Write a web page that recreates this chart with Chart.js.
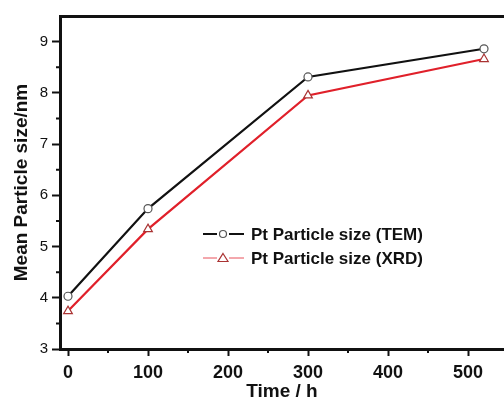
<!DOCTYPE html>
<html lang="en">
<head>
  <meta charset="UTF-8">
  <title>Mean Pt particle size vs time</title>
  <script src="https://cdn.jsdelivr.net/npm/chart.js"></script>
  <style>
    body {
      margin: 0;
      background: #fff;
    }
    canvas {
      display: block;
    }
  </style>
</head>
<body>
  <canvas id="sizeChart" width="504" height="403"></canvas>

  <script>
    // values
    const hours = [0, 100, 300, 520];
    const temSize = [4.03, 5.74, 8.31, 8.86];
    const xrdSize = [3.74, 5.34, 7.95, 8.66];
    const seriesNames = ['Pt Particle size (TEM)', 'Pt Particle size (XRD)'];

    const toPoints = (ys) => hours.map((h, i) => ({ x: h, y: ys[i] }));

    // short ticks halfway between the labelled ones
    const minorTicks = {
      id: 'minorTicks',
      afterDraw(chart) {
        const ctx = chart.ctx;
        const x = chart.scales.x;
        const y = chart.scales.y;
        ctx.save();
        ctx.strokeStyle = '#111';
        ctx.lineWidth = 2;
        ctx.beginPath();
        x.ticks.forEach(t => {
          const px = x.getPixelForValue(t.value + 50);
          if (px > x.right) return;
          ctx.moveTo(px, x.top);
          ctx.lineTo(px, x.top + 4);
        });
        y.ticks.forEach(t => {
          const v = t.value - 0.5;
          if (v < y.min) return;
          const py = y.getPixelForValue(v);
          ctx.moveTo(y.right, py);
          ctx.lineTo(y.right - 4, py);
        });
        ctx.stroke();
        ctx.restore();
      }
    };

    // legend drawn inside the plot, like the original
    const innerLegend = {
      id: 'innerLegend',
      afterDatasetsDraw(chart) {
        const ctx = chart.ctx;
        const rows = [
          { y: 234, color: '#111', width: 2, marker: 'circle', mColor: '#555' },
          { y: 258, color: '#e8505a', width: 1, marker: 'triangle', mColor: '#a33' }
        ];
        ctx.save();
        rows.forEach((r, i) => {
          ctx.strokeStyle = r.color;
          ctx.lineWidth = r.width;
          ctx.beginPath();
          ctx.moveTo(203, r.y);
          ctx.lineTo(217, r.y);
          ctx.moveTo(229, r.y);
          ctx.lineTo(244, r.y);
          ctx.stroke();
          ctx.fillStyle = '#fff';
          ctx.strokeStyle = r.mColor;
          ctx.lineWidth = 1.2;
          ctx.beginPath();
          if (r.marker === 'circle') {
            ctx.arc(223, r.y, 3.5, 0, Math.PI * 2);
          } else {
            ctx.moveTo(223, r.y - 4.5);
            ctx.lineTo(228, r.y + 3.5);
            ctx.lineTo(218, r.y + 3.5);
            ctx.closePath();
          }
          ctx.fill();
          ctx.stroke();
          ctx.fillStyle = '#111';
          ctx.font = 'bold 17px "Liberation Sans", Arial, sans-serif';
          ctx.textBaseline = 'middle';
          ctx.fillText(seriesNames[i], 251, r.y + 1);
        });
        ctx.restore();
      }
    };

    new Chart(document.getElementById('sizeChart'), {
      type: 'line',
      data: {
        datasets: [
          {
            label: seriesNames[0],
            data: toPoints(temSize),
            borderColor: '#111',
            borderWidth: 2.2,
            pointStyle: 'circle',
            pointRadius: 4,
            pointBorderWidth: 1.2,
            pointBorderColor: '#555',
            pointBackgroundColor: '#fff',
            tension: 0
          },
          {
            label: seriesNames[1],
            data: toPoints(xrdSize),
            borderColor: '#e0202a',
            borderWidth: 2.2,
            pointStyle: 'triangle',
            pointRadius: 5,
            pointBorderWidth: 1.2,
            pointBorderColor: '#a33',
            pointBackgroundColor: '#fff',
            tension: 0
          }
        ]
      },
      options: {
        responsive: false,
        animation: false,
        devicePixelRatio: 1,
        layout: { padding: 0, autoPadding: false },
        plugins: {
          legend: { display: false },
          tooltip: { enabled: false }
        },
        scales: {
          x: {
            type: 'linear',
            min: -10,
            max: 545,
            afterFit(scale) { scale.height = 54; },
            grid: {
              drawOnChartArea: false,
              tickLength: 7,
              tickColor: '#111',
              tickWidth: 2
            },
            border: { color: '#111', width: 3 },
            ticks: {
              stepSize: 100,
              includeBounds: false,
              padding: 6,
              color: '#111',
              font: { family: '"Liberation Sans", Arial, sans-serif', size: 18, weight: 'bold' }
            },
            title: {
              display: true,
              text: 'Time / h',
              color: '#111',
              padding: { top: 2, bottom: 0 },
              font: { family: '"Liberation Sans", Arial, sans-serif', size: 19, weight: 'bold' }
            }
          },
          x2: {
            type: 'linear',
            position: 'top',
            min: -10,
            max: 545,
            afterFit(scale) { scale.height = 16; },
            grid: { display: false },
            ticks: { display: false },
            border: { color: '#111', width: 3 }
          },
          y: {
            min: 3,
            max: 9.5,
            afterFit(scale) { scale.width = 60; },
            grid: {
              drawOnChartArea: false,
              tickLength: 8,
              tickColor: '#111',
              tickWidth: 2
            },
            border: { color: '#111', width: 3 },
            ticks: {
              stepSize: 1,
              includeBounds: false,
              padding: 4,
              color: '#111',
              font: { family: '"Liberation Sans", Arial, sans-serif', size: 15 }
            },
            title: {
              display: true,
              text: 'Mean Particle size/nm',
              color: '#111',
              padding: { top: 10, bottom: 0 },
              font: { family: '"Liberation Sans", Arial, sans-serif', size: 19, weight: 'bold' }
            }
          }
        }
      },
      plugins: [minorTicks, innerLegend]
    });
  </script>
</body>
</html>
